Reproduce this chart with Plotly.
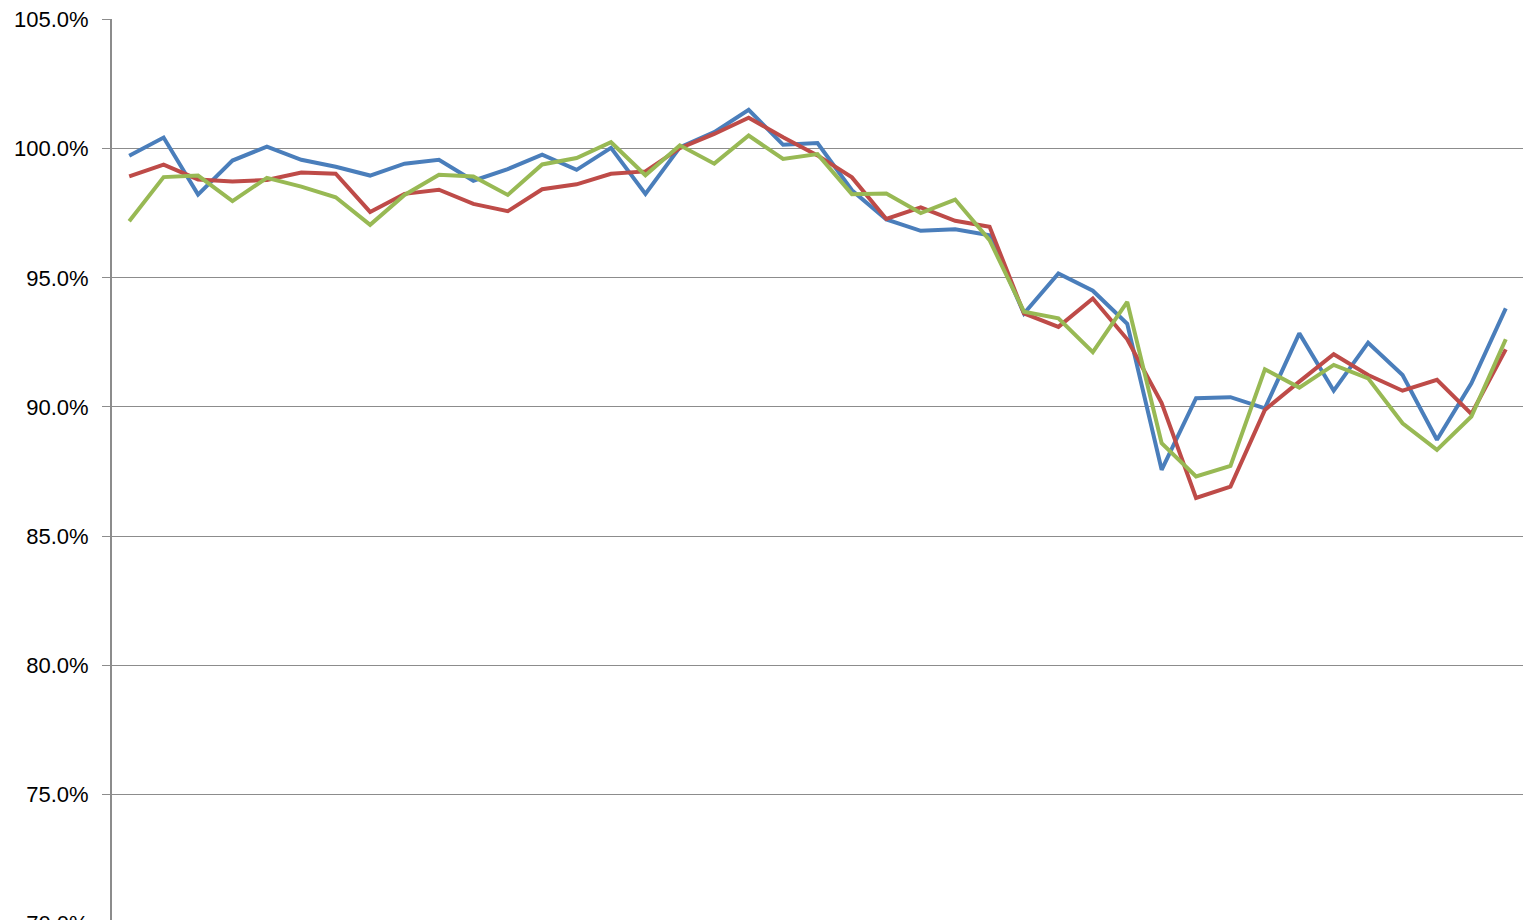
import plotly.graph_objects as go

periods = list(range(41))

series_blue = [99.73, 100.43, 98.22, 99.54, 100.08, 99.57, 99.30, 98.96, 99.42, 99.57,
               98.76, 99.21, 99.77, 99.18, 100.03, 98.25, 100.05, 100.64, 101.50, 100.15,
               100.22, 98.39, 97.26, 96.82, 96.88, 96.65, 93.62, 95.17, 94.50, 93.22,
               87.57, 90.34, 90.38, 89.95, 92.85, 90.63, 92.49, 91.24, 88.73, 90.92,
               93.82]
series_red = [98.93, 99.38, 98.81, 98.73, 98.79, 99.08, 99.03, 97.55, 98.25, 98.41,
              97.86, 97.58, 98.43, 98.62, 99.03, 99.12, 100.02, 100.57, 101.20, 100.44,
              99.74, 98.89, 97.28, 97.73, 97.21, 96.98, 93.62, 93.10, 94.20, 92.62,
              90.15, 86.48, 86.92, 89.89, 90.98, 92.04, 91.24, 90.63, 91.05, 89.73,
              92.23]
series_green = [97.19, 98.90, 98.96, 97.97, 98.87, 98.53, 98.12, 97.05, 98.21, 98.99,
                98.92, 98.21, 99.39, 99.64, 100.25, 98.97, 100.13, 99.42, 100.51, 99.60,
                99.79, 98.24, 98.26, 97.51, 98.03, 96.46, 93.69, 93.43, 92.12, 94.07,
                88.60, 87.31, 87.72, 91.46, 90.75, 91.63, 91.11, 89.37, 88.34, 89.63,
                92.62]

y_ticks = [70, 75, 80, 85, 90, 95, 100, 105]
y_tick_labels = ["70.0%", "75.0%", "80.0%", "85.0%", "90.0%", "95.0%", "100.0%", "105.0%"]

fig = go.Figure()
for vals, color in [(series_blue, "#4A7EBB"), (series_red, "#BE4B48"), (series_green, "#98B954")]:
    fig.add_trace(go.Scatter(x=periods, y=vals, mode="lines",
                             line=dict(color=color, width=4), showlegend=False,
                             hoverinfo="skip"))

fig.update_layout(
    width=1533, height=944,
    margin=dict(l=112, r=10, t=19, b=20, pad=0),
    plot_bgcolor="white", paper_bgcolor="white",
    font=dict(family="Liberation Sans, Arial, sans-serif", size=22, color="#000000"),
)
fig.update_xaxes(range=[-0.5, 40.5], showgrid=False, showticklabels=False,
                 showline=False, zeroline=False, ticks="", automargin=False)
fig.update_yaxes(range=[69.985, 105.02], tickvals=y_ticks, ticktext=y_tick_labels,
                 showgrid=True, gridcolor="#8C8C8C", gridwidth=1,
                 showline=True, linecolor="#8C8C8C", linewidth=2,
                 ticks="outside", ticklen=8, tickcolor="#8C8C8C", tickwidth=1,
                 ticklabelstandoff=9, zeroline=False, automargin=False)

fig.write_html("out.html", config={"displayModeBar": False},
               post_script="document.body.style.margin='0';document.body.style.overflow='hidden';")
